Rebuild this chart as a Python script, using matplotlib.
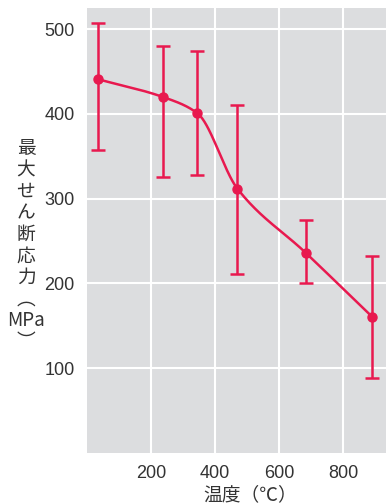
import numpy as np
import matplotlib
matplotlib.use("Agg")
import matplotlib.pyplot as plt

# temperature (deg C) and max shear stress (MPa)
temp = [34, 237, 344, 469, 683, 889]
stress = [441, 420, 401, 312, 236, 161]
err_hi = [507, 480, 474, 411, 275, 233]
err_lo = [357, 326, 328, 211, 201, 88]

x_ticks = [200, 400, 600, 800]
y_ticks = [100, 200, 300, 400, 500]

red = "#e8194f"
plt.rcParams['font.family'] = ['Liberation Sans', 'Noto Sans CJK JP', 'DejaVu Sans']


def monotone_curve(x, y, n=40):
    # monotone cubic (Fritsch-Carlson) for the smooth connecting line
    x = np.asarray(x, float)
    y = np.asarray(y, float)
    h = np.diff(x)
    d = np.diff(y) / h
    m = np.zeros_like(y)
    m[0], m[-1] = d[0], d[-1]
    for i in range(1, len(x) - 1):
        if d[i - 1] * d[i] <= 0:
            m[i] = 0
        else:
            w1 = 2 * h[i] + h[i - 1]
            w2 = h[i] + 2 * h[i - 1]
            m[i] = (w1 + w2) / (w1 / d[i - 1] + w2 / d[i])
    xs, ys = [], []
    for i in range(len(x) - 1):
        t = np.linspace(0, 1, n)
        h00 = 2 * t**3 - 3 * t**2 + 1
        h10 = t**3 - 2 * t**2 + t
        h01 = -2 * t**3 + 3 * t**2
        h11 = t**3 - t**2
        xs.append(x[i] + t * h[i])
        ys.append(h00 * y[i] + h10 * h[i] * m[i] + h01 * y[i + 1] + h11 * h[i] * m[i + 1])
    return np.concatenate(xs), np.concatenate(ys)


fig = plt.figure(figsize=(3.86, 5.04), dpi=100)
ax = fig.add_axes([87 / 386, 51 / 504, 299 / 386, 445 / 504])
ax.set_facecolor("#dcdddf")

cx, cy = monotone_curve(temp, stress)
ax.plot(cx, cy, color=red, lw=1.8, zorder=3)

yerr = [np.array(stress) - np.array(err_lo), np.array(err_hi) - np.array(stress)]
ax.errorbar(temp, stress, yerr=yerr, fmt="o", color=red, ms=6.5,
            elinewidth=1.8, capsize=5, capthick=1.8, zorder=4)

ax.set_xlim(0, 933)
ax.set_ylim(0, 525)
ax.set_xticks(x_ticks)
ax.set_yticks(y_ticks)
ax.grid(True, color="white", lw=1.5)
ax.set_axisbelow(True)
for s in ax.spines.values():
    s.set_visible(False)
ax.tick_params(length=0, labelsize=13, colors="#333333", pad=9)

fig.text(250 / 386, 1 - 495 / 504, "温度（℃）", ha="center", va="center",
         fontsize=13.5, color="#333333", family=['Noto Sans CJK JP', 'DejaVu Sans'])
fig.text(26 / 386, 1 - 245 / 504, "最\n大\nせ\nん\n断\n応\n力\n︵\nMPa\n︶",
         ha="center", va="center", fontsize=13.5, color="#333333",
         linespacing=1.03, family=['Noto Sans CJK JP', 'DejaVu Sans'])

fig.savefig("out.png", dpi=100)
